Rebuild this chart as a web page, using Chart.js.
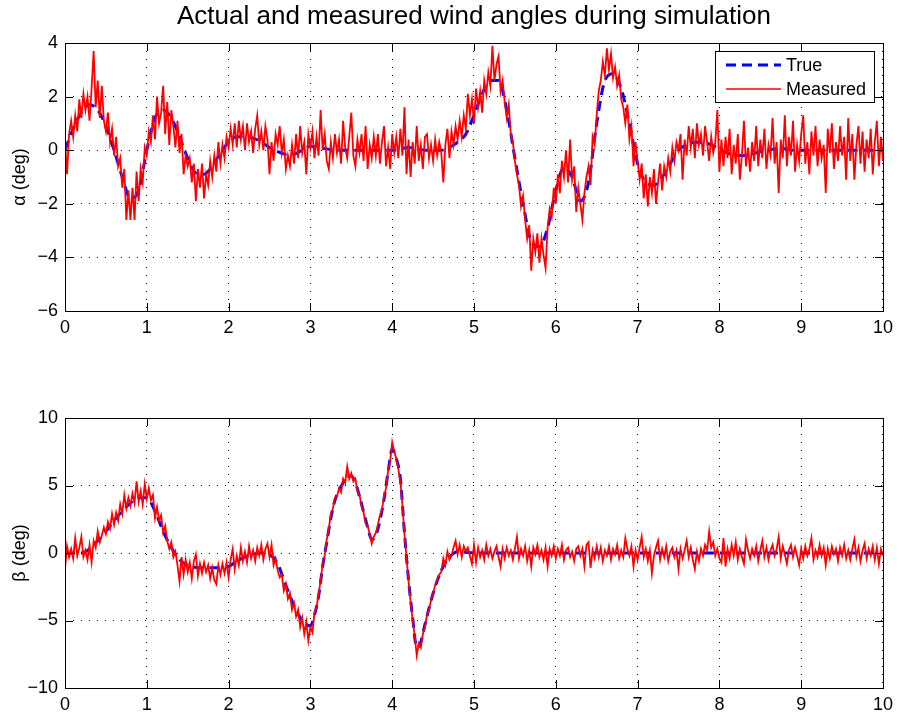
<!DOCTYPE html>
<html>
<head>
<meta charset="utf-8">
<script src="https://cdn.jsdelivr.net/npm/chart.js@4.4.1/dist/chart.umd.min.js"></script>
<style>
  body { margin: 0; background: #fff; }
  #wrap { position: relative; width: 899px; height: 717px; }
  canvas { position: absolute; left: 0; }
</style>
</head>
<body>
<div id="wrap">
  <canvas id="alphaChart" width="899" height="345" style="top:0"></canvas>
  <canvas id="betaChart" width="899" height="342" style="top:375px"></canvas>
</div>
<script>
// time axis 0..10 s
const alphaTrue = [0,
  0.8, 1.4, 1.7, 1.5, 0.9, 0.0, -1.0, -1.8, -1.5, 0.0,
  1.2, 1.5, 1.2, 0.5, -0.3, -0.85, -0.9, -0.6, -0.1, 0.3,
  0.5, 0.5, 0.45, 0.3, 0.1, -0.05, -0.15, -0.15, 0.0, 0.15,
  0.1, 0.05, 0, 0, 0, 0, 0, 0, 0, 0,
  0.05, 0.1, 0.05, 0, 0, 0, 0.1, 0.3, 0.6, 1.3,
  2.1, 2.6, 2.6, 1.5, -0.3, -2.0, -3.4, -3.6, -2.9, -1.5,
  -0.65, -1.0, -1.9, -1.2, 1.0, 2.6, 2.85, 2.3, 1.0, -0.5,
  -1.2, -1.3, -1.0, -0.5, 0.0, 0.2, 0.3, 0.3, 0.2, 0.05,
  -0.1, -0.2, -0.2, -0.15, -0.05, 0, 0.05, 0.05, 0, 0,
  0, 0, 0, 0, 0, 0, 0, 0, 0, 0];

const alphaMeas = [0.4,
  -0.9,0.6,1.1,0.5,1.3,0.7,1.9,1.2,2.1,1.5,2.0,1.1,2.3,3.7,1.6,2.6,1.2,2.4,1.1,0.7,
  1.4,0.3,0.8,-0.2,0.5,-0.6,-0.3,-1.4,-0.7,-2.6,-1.5,-2.6,-1.4,-2.6,-0.8,-1.9,-0.7,-1.2,0.1,-0.2,
  0.7,0.3,1.3,0.4,2.0,1.0,1.4,2.4,0.6,1.8,0.2,1.5,0.9,0.1,1.1,-0.1,0.6,-0.9,-0.2,-0.6,
  -0.3,-1.2,-0.5,-1.9,-0.7,-1.4,-0.5,-1.8,-0.9,-1.3,-0.4,-1.0,-0.2,-0.8,0.3,-0.5,0.2,-0.3,0.5,0.1,
  0.8,0.2,1.0,0.1,1.1,0.4,0.9,0.0,1.0,0.3,0.7,-0.1,0.8,1.3,0.2,0.7,0.0,0.9,0.4,-0.9,
  0.3,-0.4,0.6,0.2,0.9,-0.1,0.4,-0.7,-0.2,-0.6,0.2,-0.5,0.6,-0.3,0.9,-0.1,0.3,-0.9,0.6,0.1,
  0.7,-0.3,0.5,-0.2,1.5,0.0,0.6,-0.4,-0.7,0.3,-0.3,0.6,-0.1,0.4,-0.5,1.1,0.1,-0.3,0.5,1.4,
  -0.2,-0.6,0.4,-0.1,0.6,-0.4,0.9,-0.7,0.2,-0.3,0.5,-0.2,0.6,-0.5,0.3,0.9,-0.6,0.1,-0.7,0.6,
  -0.1,0.5,-0.3,0.8,-0.2,1.6,-0.9,0.4,-1.0,0.3,-0.5,0.9,-0.4,0.2,-0.7,0.5,0.6,-0.3,0.2,-0.4,
  0.4,-0.2,0.3,-0.1,-1.2,0.2,0.8,-0.3,0.7,0.2,0.9,0.4,1.1,0.5,1.3,0.8,2.1,1.3,1.9,1.0,
  2.3,1.6,2.2,1.4,2.6,2.1,2.9,2.4,3.9,2.6,3.2,3.5,2.2,2.6,1.8,1.2,1.7,0.6,0.3,-0.4,
  -0.9,-1.3,-2.1,-1.7,-2.6,-3.3,-2.8,-4.5,-3.3,-3.8,-3.1,-4.2,-3.3,-3.9,-4.4,-2.9,-2.2,-2.5,-1.4,-2.0,
  -0.9,-1.6,-0.4,-1.0,0.0,-1.2,0.4,-1.1,-0.6,-2.3,-1.4,-2.0,-2.6,-1.6,-1.0,-0.6,-1.3,0.5,0.2,1.3,
  2.2,2.6,3.3,2.8,3.8,3.0,3.6,2.7,3.1,2.4,2.8,1.9,1.6,1.0,1.7,0.4,0.9,-0.6,0.3,-0.4,
  -1.1,-0.5,-1.8,-0.9,-2.1,-1.0,-1.6,-0.7,-2.0,-1.2,-0.5,-1.5,-0.6,-1.0,-0.3,-0.8,0.1,-0.4,0.3,0.0,
  0.6,-1.1,0.4,-0.2,0.9,0.1,0.8,-0.3,1.0,0.2,0.6,-0.2,0.9,0.3,-0.4,0.5,-0.1,0.3,1.5,-0.8,
  0.4,-0.6,0.5,-0.3,0.8,-0.9,0.2,-0.5,0.6,-1.1,-0.2,1.1,-0.6,0.1,-0.8,0.3,-0.4,0.9,-0.6,0.4,
  -0.3,0.8,-0.7,0.2,-0.2,1.2,-0.5,0.3,-1.6,0.4,-0.3,1.3,-0.6,0.5,-0.2,1.1,-0.8,0.2,-0.4,0.6,
  1.3,-0.5,0.3,-0.9,0.7,-0.2,0.9,-0.6,0.4,-0.3,0.2,-1.6,0.8,-0.1,1.0,-0.7,0.3,-0.4,0.9,-0.2,
  0.5,-1.1,1.2,-0.4,0.6,-1.1,0.2,0.9,-0.5,0.7,-0.8,0.4,-0.3,0.8,-0.9,0.3,1.1,-0.6,0.5,-0.4];

const betaTrueT = [0,0.2,0.3,0.4,0.5,0.6,0.7,0.8,0.9,1.0,
  1.1,1.2,1.3,1.4,1.5,1.7,1.9,2.0,2.1,2.2,
  2.3,2.4,2.5,2.6,2.7,2.8,2.9,3.0,3.05,3.1,
  3.15,3.2,3.25,3.3,3.4,3.45,3.5,3.55,3.6,3.7,
  3.75,3.8,3.85,3.9,3.95,4.0,4.05,4.1,4.15,4.2,
  4.25,4.3,4.35,4.4,4.5,4.6,4.7,4.8,5.0,10];
const betaTrueV = [0,0,0.3,0.9,1.6,2.4,3.1,3.7,4.1,4.1,
  3.1,1.6,0.4,-0.5,-0.9,-1.1,-1.1,-1.0,-0.6,-0.3,
  -0.1,0,-0.1,-0.8,-2.4,-3.9,-5.0,-5.4,-4.6,-3.2,
  -1.0,0.8,2.6,3.9,5.2,5.7,5.7,5.2,4.2,1.9,
  1.0,1.3,2.4,4.0,6.0,7.7,7.0,5.5,1.5,-2.0,
  -4.8,-7.0,-6.6,-5.3,-3.0,-1.3,-0.3,0.1,0,0];

const betaMeas = [-1.2,
  0.5,-0.3,0.3,-0.4,1.1,-0.2,0.4,1.2,-0.3,0.2,-0.5,0.6,-0.7,0.9,0.4,1.6,0.8,1.3,1.9,1.4,
  2.3,1.8,2.9,2.1,3.0,2.4,3.6,2.9,4.3,3.3,4.1,3.5,4.4,3.7,5.3,3.8,4.6,3.6,5.1,4.0,
  4.8,3.9,4.3,2.6,3.4,2.4,2.8,1.5,2.0,0.9,0.3,0.8,-0.3,0.1,-0.9,-2.1,-0.3,-1.6,-0.5,-1.4,
  -0.7,-1.9,-0.6,-0.1,-1.7,-0.8,-1.5,-0.7,-1.4,-0.9,-1.9,-1.1,-2.0,-2.3,-0.9,-1.6,-0.8,-1.5,-0.7,-1.8,
  -0.5,0.3,-1.2,-0.2,-0.9,0.4,-0.6,0.1,-0.7,0.5,-0.4,0.2,-0.6,0.4,-0.2,0.6,-0.5,0.3,0.7,-0.3,
  0.6,-0.9,-0.4,-1.3,-1.8,-1.6,-2.8,-2.3,-3.4,-3.0,-4.2,-3.7,-4.7,-4.2,-5.5,-4.8,-6.0,-5.1,-6.5,-5.5,
  -5.9,-4.4,-4.0,-3.1,-2.0,-0.8,-0.2,1.0,1.8,2.9,3.3,4.1,4.2,4.8,4.5,5.5,5.2,6.4,5.5,5.9,
  5.3,5.5,4.6,4.3,3.5,3.0,2.2,2.0,1.4,0.7,1.2,1.5,2.1,2.8,3.2,4.2,4.8,6.1,6.8,8.2,
  7.5,7.0,6.2,5.3,3.5,1.4,-0.3,-2.1,-3.6,-5.0,-6.1,-7.6,-6.7,-7.0,-6.0,-5.5,-4.6,-4.2,-3.5,-3.0,
  -2.4,-2.0,-1.6,-1.4,-0.4,-0.9,0.1,-0.5,-0.2,0.4,0.9,-0.1,0.6,-0.3,0.5,0.1,0.4,-0.2,-0.8,0.6,
  -0.7,0.4,-0.3,0.2,-0.5,0.6,-0.2,0.3,-0.4,0.1,0.5,-0.3,-1.0,0.3,-0.4,0.4,-0.2,0.2,-0.5,0.3,
  1.2,-0.4,0.3,-0.2,0.5,-0.6,0.2,-1.0,0.4,-0.1,0.6,-0.3,0.2,-0.5,0.4,-1.0,0.3,-0.2,0.5,-0.4,
  0.3,-0.2,0.6,-0.5,0.2,0.4,-0.3,0.1,-0.6,0.3,0.5,-0.2,0.3,-1.0,0.6,0.8,-1.1,0.2,-0.4,0.5,
  -0.3,0.4,-0.6,0.2,-0.2,0.5,-0.5,0.3,-0.1,0.6,-0.4,0.2,-0.3,1.1,0.3,-0.2,0.5,-1.0,0.2,-0.5,
  0.4,1.2,-0.3,0.3,-0.6,0.2,-1.5,-0.2,0.4,0.9,-0.5,0.3,-0.3,0.5,-0.6,0.1,0.4,-0.3,0.2,-1.2,
  0.3,-0.4,0.2,0.9,-0.3,0.4,-0.5,-1.2,0.1,-0.6,0.3,-0.2,0.6,0.2,1.6,0.4,0.8,-0.2,0.3,-0.4,
  -0.7,1.1,-1.0,0.3,-0.4,0.6,-0.2,0.8,-0.5,0.3,-0.3,-0.8,1.0,0.2,-0.4,0.3,-0.2,0.5,-0.6,0.2,
  0.9,-0.3,0.4,-0.5,0.2,0.6,-0.2,0.3,1.2,-0.4,0.5,-0.1,-0.8,0.2,0.6,-0.3,0.4,-0.2,-0.9,0.3,
  -0.4,0.5,-0.2,0.3,1.1,-0.5,0.2,-0.3,0.6,-0.2,0.4,-0.9,0.3,-0.4,0.5,-0.1,0.3,-0.6,0.4,-0.2,
  0.6,-0.4,0.2,-0.5,0.3,1.0,-0.3,0.4,-0.6,0.2,0.7,-0.4,0.3,-0.2,0.5,-0.5,0.4,-0.8,0.3,-0.2];

const FONT = "'Liberation Sans', Arial, Helvetica, sans-serif";
const TITLE = 'Actual and measured wind angles during simulation';

// evenly sampled over 0..10 s
const toPoints = vals => vals.map((v, i) => ({ x: i * 10 / (vals.length - 1), y: v }));
const pairPoints = (ts, vs) => ts.map((t, i) => ({ x: t, y: vs[i] }));

// MATLAB style box, inner ticks, title and legend
const frame = {
  id: 'frame',
  afterDatasetsDraw(chart, args, opts) {
    const ctx = chart.ctx, a = chart.chartArea;
    const xs = chart.scales.x, ys = chart.scales.y;
    ctx.save();
    ctx.strokeStyle = '#000';
    ctx.lineWidth = 1;
    ctx.beginPath();
    xs.ticks.forEach(t => {
      const px = Math.round(xs.getPixelForValue(t.value)) + 0.5;
      ctx.moveTo(px, a.bottom); ctx.lineTo(px, a.bottom - 8);
      ctx.moveTo(px, a.top); ctx.lineTo(px, a.top + 8);
    });
    ys.ticks.forEach(t => {
      const py = Math.round(ys.getPixelForValue(t.value)) + 0.5;
      ctx.moveTo(a.left, py); ctx.lineTo(a.left + 8, py);
      ctx.moveTo(a.right, py); ctx.lineTo(a.right - 8, py);
    });
    ctx.stroke();
    ctx.strokeRect(Math.round(a.left) + 0.5, Math.round(a.top) + 0.5,
      Math.round(a.right - a.left), Math.round(a.bottom - a.top));

    if (opts.title) {
      ctx.fillStyle = '#000';
      ctx.font = '26px ' + FONT;
      ctx.textAlign = 'center';
      ctx.textBaseline = 'middle';
      ctx.fillText(opts.title, (a.left + a.right) / 2, 17);
    }

    if (opts.legend) {
      const x0 = a.right - 168, y0 = a.top + 8, w = 159, h = 51;
      ctx.fillStyle = '#fff';
      ctx.fillRect(x0, y0, w, h);
      ctx.strokeRect(x0 + 0.5, y0 + 0.5, w, h);
      const ds = chart.data.datasets;
      [ds[0], ds[1]].forEach((d, i) => {
        const y = y0 + 14 + i * 24;
        ctx.beginPath();
        ctx.strokeStyle = d.borderColor;
        ctx.lineWidth = d.legendWidth;
        ctx.setLineDash(d.borderDash || []);
        ctx.moveTo(x0 + 11, y); ctx.lineTo(x0 + 66, y);
        ctx.stroke();
        ctx.setLineDash([]);
        ctx.fillStyle = '#000';
        ctx.font = '18px ' + FONT;
        ctx.textAlign = 'left';
        ctx.textBaseline = 'middle';
        ctx.fillText(d.label, x0 + 71, y + 1);
      });
    }
    ctx.restore();
  }
};

function makeChart(id, trueData, measData, yMin, yMax, yStep, yLabel, padTop, xH, extra) {
  return new Chart(document.getElementById(id), {
    type: 'line',
    data: {
      datasets: [{
        label: 'True',
        data: trueData,
        borderColor: '#0000ff',
        borderWidth: 3,
        legendWidth: 3,
        borderDash: [10, 6],
        pointRadius: 0,
        cubicInterpolationMode: 'monotone',
        order: 1
      }, {
        label: 'Measured',
        data: measData,
        borderColor: '#ff0000',
        borderWidth: 1.8,
        legendWidth: 1.5,
        pointRadius: 0,
        tension: 0,
        order: 0
      }]
    },
    options: {
      responsive: false,
      animation: false,
      devicePixelRatio: 1,
      layout: { padding: { top: padTop, right: 15, left: 0, bottom: 0 } },
      plugins: {
        legend: { display: false },
        tooltip: { enabled: false },
        frame: extra
      },
      scales: {
        x: {
          type: 'linear', min: 0, max: 10,
          ticks: { stepSize: 1, padding: 6, color: '#000', maxRotation: 0, font: { size: 18, family: FONT } },
          grid: { color: '#000', drawTicks: false },
          border: { display: false, dash: [1, 7] },
          afterFit: s => { s.height = xH; }
        },
        y: {
          min: yMin, max: yMax,
          ticks: {
            stepSize: yStep, padding: 7, color: '#000', font: { size: 18, family: FONT },
            callback: v => String(v).replace('-', '\u2212')
          },
          title: { display: true, text: yLabel, color: '#000', font: { size: 18, family: FONT }, padding: { top: 9, bottom: 0 } },
          grid: { color: '#000', drawTicks: false },
          border: { display: false, dash: [1, 7] },
          afterFit: s => { s.width = 65; }
        }
      }
    },
    plugins: [frame]
  });
}

makeChart('alphaChart', toPoints(alphaTrue), toPoints(alphaMeas), -6, 4, 2, 'α (deg)', 43, 34,
  { title: TITLE, legend: true });
makeChart('betaChart', pairPoints(betaTrueT, betaTrueV), toPoints(betaMeas), -10, 10, 5, 'β (deg)', 43, 29,
  { title: null, legend: false });
</script>
</body>
</html>
